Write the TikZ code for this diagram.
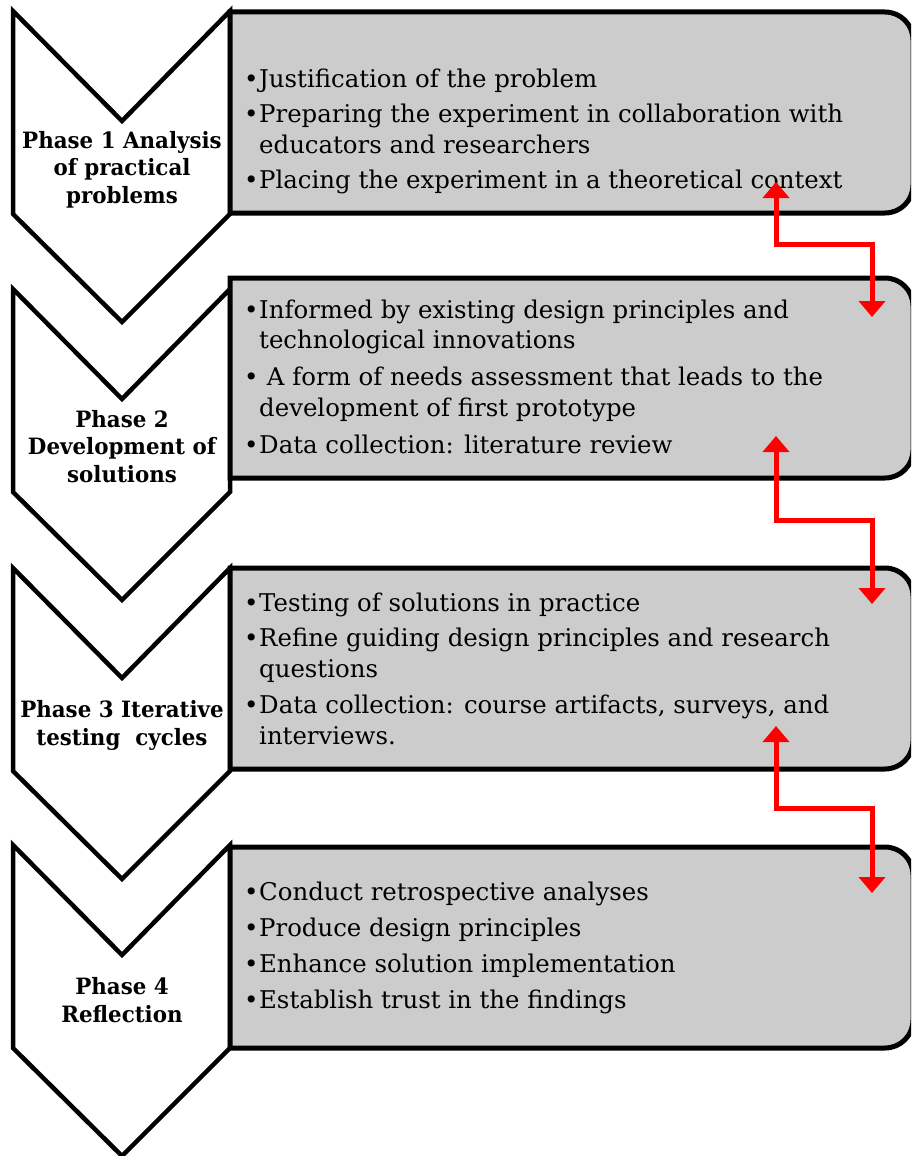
\documentclass[tikz,border=0pt]{standalone}
\usepackage{fontspec}
\setmainfont{DejaVu Serif}
\newfontfamily\lblfont[FakeStretch=0.95]{DejaVu Serif}
\usetikzlibrary{arrows.meta}
\definecolor{boxgray}{RGB}{204,204,204}
\definecolor{arrred}{RGB}{255,0,0}
\newcommand{\bl}{\makebox[15pt][l]{•}}
\newcommand{\ind}{\hspace*{15pt}}
\begin{document}
\begin{tikzpicture}[x=1pt,y=-1pt,
 chev/.style={draw=black,fill=white,line width=4.5pt,line join=miter},
 gbox/.style={draw=black,fill=boxgray,line width=5pt,line join=miter},
 lbl/.style={font=\lblfont\bfseries\fontsize{22.5}{27.5}\selectfont,align=center,anchor=base,inner sep=0pt},
 btxt/.style={font=\fontsize{24.4}{30.7}\selectfont,align=left,anchor=base west,inner sep=0pt},
 link/.style={draw=arrred,line width=5pt,{Triangle[width=26pt,length=16pt]}-{Triangle[width=26pt,length=16pt]}}
]
\useasboundingbox (0,0) rectangle (911,1156);
\clip (0,0) rectangle (911,1156);
% chevrons
\foreach \t in {11,289,568,845} {
  \draw[chev] (13,\t) -- (122,\t+110) -- (230,\t) -- (230,\t+203) -- (122,\t+311) -- (13,\t+203) -- cycle;
}
% gray boxes
\foreach \t/\b in {12/213,278/478,568/769,847/1048} {
  \draw[gbox] (230,\b) -- (230,\t) -- (885,\t) .. controls (900.5,\t) and (913,\t+12.5) .. (913,\t+28)
    -- (913,\b-28) .. controls (913,\b-12.5) and (900.5,\b) .. (885,\b) -- cycle;
}
% phase labels (anchor = baseline of last line)
\node[lbl] (l1) at (122,203) {Phase 1 Analysis\\of practical\\problems};
\node[lbl] (l2) at (122,482) {Phase 2\\Development of\\solutions};
\node[lbl] (l3) at (122,745) {Phase 3 Iterative\\testing\ \ cycles};
\node[lbl] (l4) at (122,1022) {Phase 4\\Reflection};
% bullet texts (anchor = baseline of last line)
\node[btxt] (t1) at (244,188) {\bl Justification of the problem\\[4pt]\bl Preparing the experiment in collaboration with\\\ind educators and researchers\\[4pt]\bl Placing the experiment in a theoretical context};
\node[btxt] (t2) at (244,453) {\bl Informed by existing design principles and\\\ind technological innovations\\[6pt]\bl\ A form of needs assessment that leads to the\\\ind development of first prototype\\[6pt]\bl Data collection: literature review};
\node[btxt] (t3) at (244,744) {\bl Testing of solutions in practice\\[5pt]\bl Refine guiding design principles and research\\\ind questions\\[5pt]\bl Data collection: course artifacts, surveys, and\\\ind interviews.};
\node[btxt] (t4) at (244,1008) {\bl Conduct retrospective analyses\\[5pt]\bl Produce design principles\\[5pt]\bl Enhance solution implementation\\[5pt]\bl Establish trust in the findings};
% red connectors
\coordinate (a1s) at (776,182); \coordinate (a1m) at (824,244); \coordinate (a1e) at (872,317);
\coordinate (a2s) at (776,436); \coordinate (a2m) at (824,520); \coordinate (a2e) at (872,604);
\coordinate (a3s) at (776,726); \coordinate (a3m) at (824,808); \coordinate (a3e) at (872,893);
\draw[link] (a1s) |- (a1m) -| (a1e);
\draw[link] (a2s) |- (a2m) -| (a2e);
\draw[link] (a3s) |- (a3m) -| (a3e);
\end{tikzpicture}
\end{document}
